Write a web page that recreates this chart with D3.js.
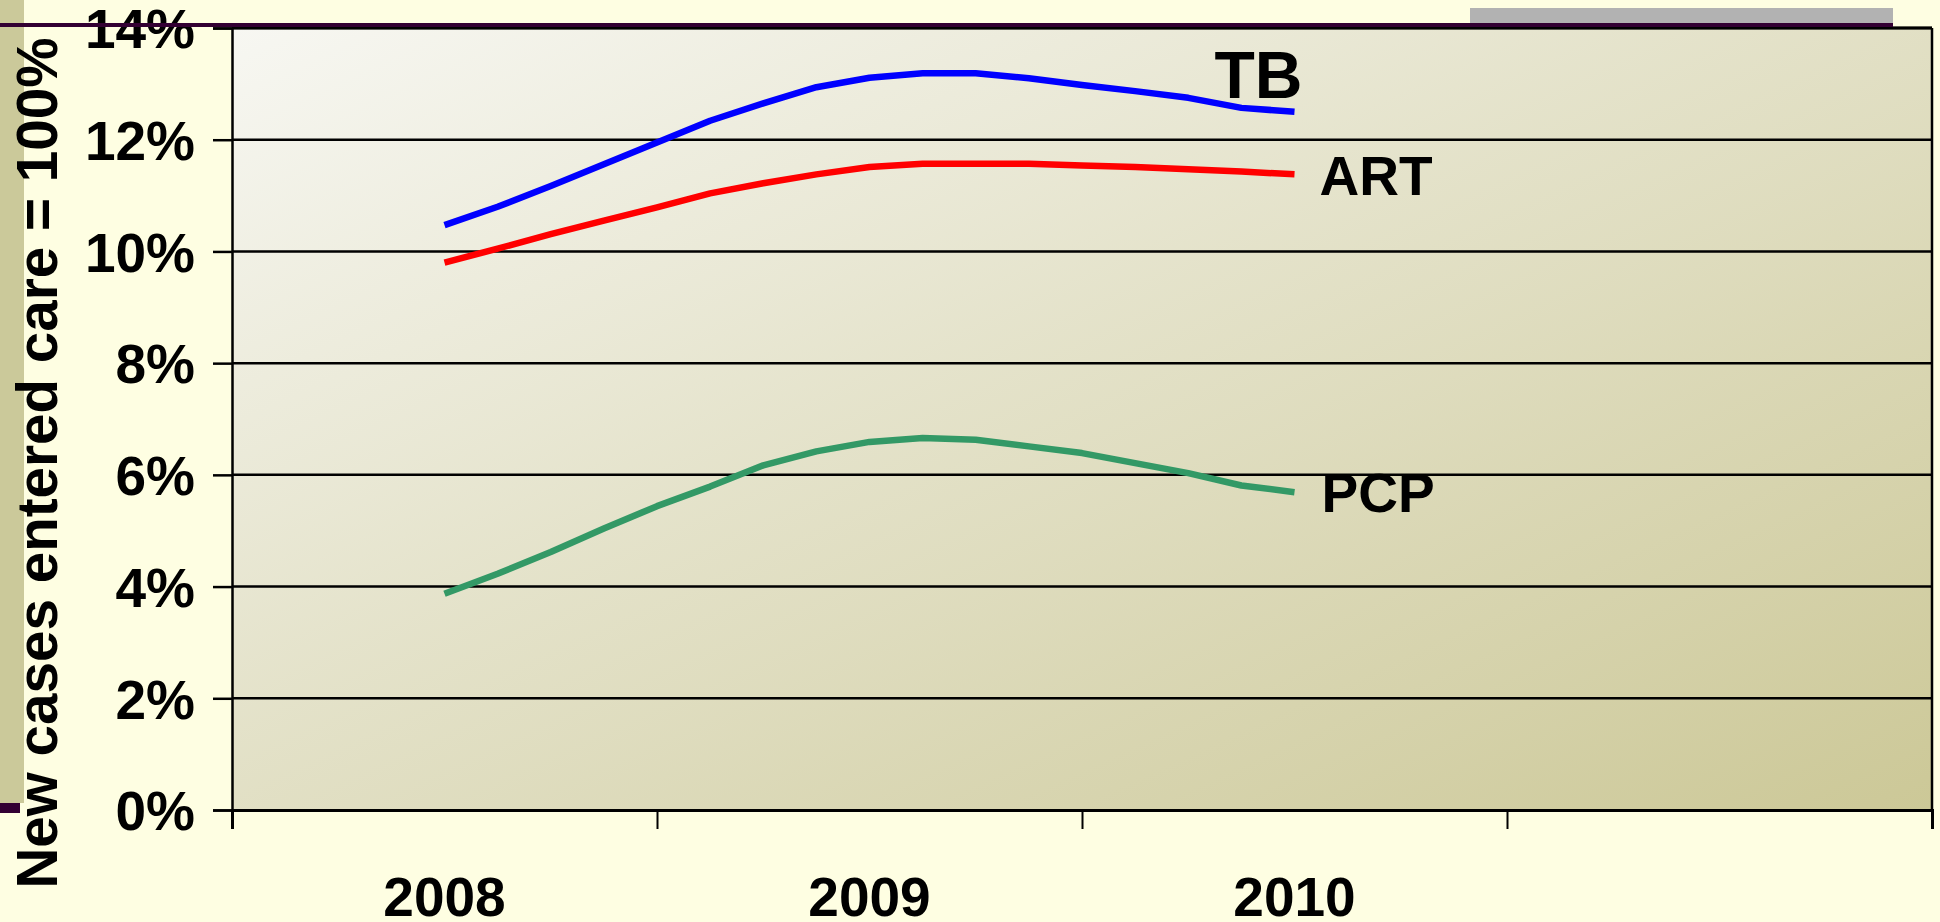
<!DOCTYPE html>
<html>
<head>
<meta charset="utf-8">
<script src="https://cdn.jsdelivr.net/npm/d3@7"></script>
<style>
  html, body { margin: 0; padding: 0; background: #fefee2; }
  svg { display: block; }
  text { font-family: "Liberation Sans", Arial, sans-serif; font-weight: bold; fill: #000; }
</style>
</head>
<body>
<svg id="chart" width="1940" height="922"></svg>
<script>
// categories on the x axis (last band is empty)
const years = ["2008", "2009", "2010", ""];
// time of each observation, in years
const periods = [2008, 2008.125, 2008.25, 2008.375, 2008.5, 2008.625, 2008.75, 2008.875,
                 2009, 2009.125, 2009.25, 2009.375, 2009.5, 2009.625, 2009.75, 2009.875, 2010];
const tbValues  = [10.47, 10.80, 11.17, 11.56, 11.95, 12.34, 12.65, 12.94, 13.11, 13.19, 13.19, 13.10, 12.98, 12.87, 12.75, 12.57, 12.50];
const artValues = [9.80, 10.05, 10.31, 10.55, 10.79, 11.04, 11.22, 11.38, 11.51, 11.57, 11.57, 11.57, 11.54, 11.51, 11.47, 11.43, 11.38];
const pcpValues = [3.87, 4.23, 4.62, 5.04, 5.44, 5.79, 6.17, 6.42, 6.59, 6.66, 6.63, 6.51, 6.39, 6.21, 6.03, 5.81, 5.69];
const yTicks = [0, 2, 4, 6, 8, 10, 12, 14];

const series = [
  {name: "TB",  values: tbValues,  color: "#0000ff", size: 66, dx: -80, dy: -14},
  {name: "ART", values: artValues, color: "#ff0000", size: 55, dx: 25,  dy: 21},
  {name: "PCP", values: pcpValues, color: "#339966", size: 55, dx: 27,  dy: 20}
];

const svg = d3.select("#chart");
const plotLeft = 232, plotRight = 1932, plotTop = 28, plotBottom = 810;

// decorative slide bits
svg.append("rect").attr("x", 0).attr("y", 0).attr("width", 24).attr("height", 803).attr("fill", "#cbc99a");
svg.append("rect").attr("x", 0).attr("y", 803).attr("width", 20).attr("height", 10).attr("fill", "#330033");
svg.append("rect").attr("x", 1470).attr("y", 8).attr("width", 423).attr("height", 15).attr("fill", "#b2b2b2");

const defs = svg.append("defs");
const grad = defs.append("linearGradient").attr("id", "bg")
  .attr("x1", "0%").attr("y1", "0%").attr("x2", "100%").attr("y2", "100%");
grad.append("stop").attr("offset", "0%").attr("stop-color", "#f7f7f2");
grad.append("stop").attr("offset", "100%").attr("stop-color", "#ccc897");

const x = d3.scaleLinear().domain([2007.5, 2011.5]).range([plotLeft, plotRight]);
const band = d3.scaleBand().domain(years).range([plotLeft, plotRight]);
const y = d3.scaleLinear().domain([0, 14]).range([plotBottom, plotTop]);

svg.append("rect").attr("x", plotLeft).attr("y", plotTop)
  .attr("width", plotRight - plotLeft).attr("height", plotBottom - plotTop).attr("fill", "url(#bg)");

// gridlines
svg.append("g").selectAll("line").data(yTicks.filter(d => d > 0)).join("line")
  .attr("x1", plotLeft).attr("x2", plotRight)
  .attr("y1", d => y(d)).attr("y2", d => y(d))
  .attr("stroke", "#000").attr("stroke-width", 2.5);

// plot border right/top
svg.append("line").attr("x1", plotRight).attr("x2", plotRight).attr("y1", plotTop).attr("y2", plotBottom)
  .attr("stroke", "#000").attr("stroke-width", 2.5);
svg.append("line").attr("x1", plotLeft).attr("x2", plotRight).attr("y1", plotTop).attr("y2", plotTop)
  .attr("stroke", "#000").attr("stroke-width", 3);

// y axis
const yAxis = svg.append("g").attr("transform", `translate(${plotLeft},0)`)
  .call(d3.axisLeft(y).tickValues(yTicks).tickFormat(d => d + "%").tickSize(19).tickPadding(18));
yAxis.select(".domain").attr("stroke-width", 2.5);
yAxis.selectAll(".tick line").attr("stroke-width", 2.5);
yAxis.selectAll("text").attr("font-size", 55).attr("dy", "0.36em")
  .style("font-family", "'Liberation Sans', Arial, sans-serif").style("font-weight", "bold");

// x axis (ticks on band edges)
const xAxis = svg.append("g").attr("transform", `translate(0,${plotBottom})`)
  .call(d3.axisBottom(x).tickValues([2007.5, 2008.5, 2009.5, 2010.5, 2011.5]).tickFormat("").tickSize(19));
xAxis.select(".domain").attr("stroke-width", 3);
xAxis.selectAll(".tick line").attr("stroke-width", 2);

svg.append("g").selectAll("text").data(years).join("text")
  .attr("x", d => band(d) + band.bandwidth() / 2).attr("y", 916)
  .attr("text-anchor", "middle").attr("font-size", 55)
  .text(d => d);

// lines
const line = d3.line().x((d, i) => x(periods[i])).y(d => y(d));
svg.append("g").selectAll("path").data(series).join("path")
  .attr("d", d => line(d.values))
  .attr("fill", "none").attr("stroke", d => d.color).attr("stroke-width", 6.5)
  .attr("stroke-linejoin", "round");

// series labels
svg.append("g").selectAll("text").data(series).join("text")
  .attr("x", d => x(periods[periods.length - 1]) + d.dx)
  .attr("y", d => y(d.values[d.values.length - 1]) + d.dy)
  .attr("font-size", d => d.size)
  .text(d => d.name);

// purple rule across the top
svg.append("rect").attr("x", 0).attr("y", 23).attr("width", 1893).attr("height", 4).attr("fill", "#330033");

// y axis title
svg.append("text")
  .attr("transform", "translate(57,463) rotate(-90)")
  .attr("text-anchor", "middle").attr("font-size", 56.6)
  .text("New cases entered care = 100%");
</script>
</body>
</html>
